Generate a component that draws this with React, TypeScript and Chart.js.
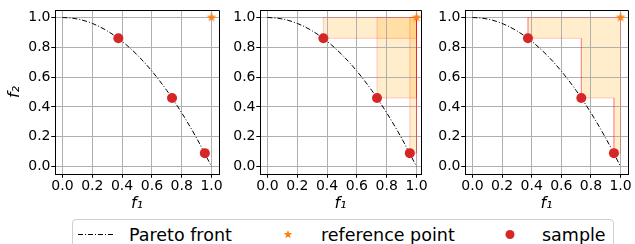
import React, { useEffect, useRef } from 'react';
import { Chart, registerables } from 'chart.js';

Chart.register(...registerables);

// ---------- data ----------
const TICK_VALUES = [0, 0.2, 0.4, 0.6, 0.8, 1.0];
const FRONT_F1 = [0, 0.1, 0.2, 0.3, 0.4, 0.5, 0.6, 0.7, 0.8, 0.9, 1.0];
const FRONT_F2 = [1.0, 0.99, 0.96, 0.91, 0.84, 0.75, 0.64, 0.51, 0.36, 0.19, 0.0];
const SAMPLE_F1 = [0.375, 0.735, 0.955];
const SAMPLE_F2 = [0.86, 0.46, 0.09];
const REF_F1 = [1.0];
const REF_F2 = [1.0];
const LEGEND_LABELS = ['Pareto front', 'reference point', 'sample'];
const X_TITLE = 'f\u2081';
const Y_TITLE = 'f\u2082';

// ---------- layout / style ----------
const W = 635;
const H = 244;
const FONT = '"DejaVu Sans", sans-serif';
const TOP = 10;
const BOTTOM = 174;
const X_AXIS_H = 39;
const PANELS = [
  { left: 55, right: 219, xMax: 1.05, yTitle: true, yW: 55, mode: 'none' },
  { left: 260, right: 421, xMax: 1.03, yTitle: false, yW: 45, mode: 'boxes' },
  { left: 465, right: 629, xMax: 1.05, yTitle: false, yW: 45, mode: 'union' },
];
const FILL = 'rgba(255,165,0,0.2)';
const EDGE = 'rgba(255,0,0,0.2)';
const RED = '#d62728';
const ORANGE = '#ff7f0e';
const LEG_Y = 234.5;

function makeStar(): HTMLCanvasElement {
  const c = document.createElement('canvas');
  c.width = 12;
  c.height = 12;
  const g = c.getContext('2d')!;
  g.beginPath();
  for (let k = 0; k < 10; k++) {
    const r = k % 2 === 0 ? 5 : 2.1;
    const a = -Math.PI / 2 + (k * Math.PI) / 5;
    const px = 6 + r * Math.cos(a);
    const py = 6 + r * Math.sin(a);
    if (k === 0) g.moveTo(px, py);
    else g.lineTo(px, py);
  }
  g.closePath();
  g.fillStyle = ORANGE;
  g.fill();
  return c;
}

const framePlugin = {
  id: 'frame',
  beforeDatasetsDraw(chart: any) {
    // grid above the filled patches, below the lines and markers
    chart.scales.x.drawGrid(chart.chartArea);
    chart.scales.y.drawGrid(chart.chartArea);
  },
  afterDraw(chart: any) {
    const { left, right, top, bottom } = chart.chartArea;
    const ctx = chart.ctx;
    ctx.save();
    ctx.strokeStyle = '#000';
    ctx.lineWidth = 1;
    const l = Math.floor(left) + 0.5;
    const r = Math.floor(right) + 0.5;
    const t = Math.floor(top) + 0.5;
    const b = Math.floor(bottom) + 0.5;
    ctx.beginPath();
    ctx.rect(l, t, r - l, b - t);
    ctx.stroke();
    ctx.restore();
  },
};

function buildDatasets(mode: string, star: HTMLCanvasElement) {
  const ds: any[] = [];
  ds.push({
    label: LEGEND_LABELS[2],
    data: SAMPLE_F1.map((x, i) => ({ x, y: SAMPLE_F2[i] })),
    showLine: false,
    pointRadius: 5,
    pointBackgroundColor: RED,
    pointBorderColor: RED,
    pointBorderWidth: 0,
  });
  ds.push({
    label: LEGEND_LABELS[1],
    data: REF_F1.map((x, i) => ({ x, y: REF_F2[i] })),
    showLine: false,
    pointStyle: star,
    pointRadius: 6,
  });
  ds.push({
    label: LEGEND_LABELS[0],
    data: FRONT_F1.map((x, i) => ({ x, y: FRONT_F2[i] })),
    showLine: true,
    borderColor: '#000',
    borderWidth: 1,
    borderDash: [5, 2, 1, 2],
    pointRadius: 0,
    cubicInterpolationMode: 'monotone',
    fill: false,
  });
  const rx = REF_F1[0];
  const ry = REF_F2[0];
  if (mode === 'boxes') {
    SAMPLE_F1.forEach((sx, i) => {
      const sy = SAMPLE_F2[i];
      ds.push({
        data: [
          { x: sx, y: sy },
          { x: sx, y: ry },
          { x: rx, y: ry },
          { x: rx, y: sy },
          { x: sx, y: sy },
        ],
        showLine: true,
        fill: 'shape',
        backgroundColor: FILL,
        borderColor: EDGE,
        borderWidth: 1,
        pointRadius: 0,
        tension: 0,
      });
    });
  } else if (mode === 'union') {
    const pts: any[] = [{ x: SAMPLE_F1[0], y: ry }];
    SAMPLE_F1.forEach((sx, i) => {
      pts.push({ x: sx, y: SAMPLE_F2[i] });
      const nx = i + 1 < SAMPLE_F1.length ? SAMPLE_F1[i + 1] : rx;
      pts.push({ x: nx, y: SAMPLE_F2[i] });
    });
    pts.push({ x: rx, y: ry });
    pts.push({ x: SAMPLE_F1[0], y: ry });
    ds.push({
      data: pts,
      showLine: true,
      fill: 'shape',
      backgroundColor: FILL,
      borderColor: EDGE,
      borderWidth: 1,
      pointRadius: 0,
      tension: 0,
    });
  }
  return ds;
}

function Panel({ idx }: { idx: number }) {
  const ref = useRef<HTMLCanvasElement>(null);
  useEffect(() => {
    const p = PANELS[idx];
    const star = makeStar();
    const tickFont = { family: FONT, size: 14 };
    const grid = {
      color: '#b0b0b0',
      lineWidth: 1,
      tickColor: '#000',
      tickLength: 3.5,
      drawTicks: true,
    };
    const chart = new Chart(ref.current!, {
      type: 'scatter',
      data: { datasets: buildDatasets(p.mode, star) },
      plugins: [framePlugin],
      options: {
        responsive: false,
        maintainAspectRatio: false,
        animation: false,
        devicePixelRatio: 1,
        events: [],
        layout: {
          padding: {
            left: p.left - p.yW,
            right: W - p.right,
            top: TOP,
            bottom: H - BOTTOM - X_AXIS_H,
          },
        },
        plugins: {
          legend: { display: false },
          tooltip: { enabled: false },
          filler: { drawTime: 'beforeDatasetsDraw' },
        } as any,
        scales: {
          x: {
            type: 'linear',
            min: -0.05,
            max: p.xMax,
            afterBuildTicks: (s: any) => {
              s.ticks = TICK_VALUES.map((v) => ({ value: v }));
            },
            afterFit: (s: any) => {
              s.height = X_AXIS_H;
            },
            ticks: {
              callback: (v: any) => Number(v).toFixed(1),
              font: tickFont,
              color: '#000',
              padding: 0,
              maxRotation: 0,
              minRotation: 0,
              autoSkip: false,
            },
            grid,
            border: { display: true, color: '#000', width: 1 },
            title: {
              display: true,
              text: X_TITLE,
              font: { family: FONT, size: 16, style: 'italic' },
              color: '#000',
              padding: 0,
            },
          },
          y: {
            type: 'linear',
            min: -0.05,
            max: 1.05,
            afterBuildTicks: (s: any) => {
              s.ticks = TICK_VALUES.map((v) => ({ value: v }));
            },
            afterFit: (s: any) => {
              s.width = p.yW;
            },
            ticks: {
              callback: (v: any) => Number(v).toFixed(1),
              font: tickFont,
              color: '#000',
              padding: 1,
              autoSkip: false,
            },
            grid,
            border: { display: true, color: '#000', width: 1 },
            title: {
              display: p.yTitle,
              text: Y_TITLE,
              font: { family: FONT, size: 16, style: 'italic' },
              color: '#000',
              padding: { top: 5, bottom: 0 },
            },
          },
        } as any,
      } as any,
    });
    return () => chart.destroy();
  }, [idx]);
  return (
    <canvas
      ref={ref}
      width={W}
      height={H}
      style={{ position: 'absolute', left: 0, top: 0, width: W, height: H }}
    />
  );
}

function Legend() {
  const text: React.CSSProperties = {
    position: 'absolute',
    fontFamily: FONT,
    fontSize: 17.5,
    lineHeight: '20px',
    top: LEG_Y - 10,
    color: '#000',
    whiteSpace: 'nowrap',
  };
  const starPts: string[] = [];
  for (let k = 0; k < 10; k++) {
    const r = k % 2 === 0 ? 4.6 : 1.9;
    const a = -Math.PI / 2 + (k * Math.PI) / 5;
    starPts.push(`${(288 + r * Math.cos(a)).toFixed(2)},${(LEG_Y + r * Math.sin(a)).toFixed(2)}`);
  }
  return (
    <>
      <div
        style={{
          position: 'absolute',
          left: 72,
          top: 219,
          width: 542,
          height: 34,
          border: '1px solid #d0d0d0',
          borderRadius: 4,
          background: '#fff',
          boxSizing: 'border-box',
        }}
      />
      <svg
        width={W}
        height={H}
        style={{ position: 'absolute', left: 0, top: 0, pointerEvents: 'none' }}
      >
        <line x1={78} y1={LEG_Y} x2={114} y2={LEG_Y} stroke="#000" strokeWidth={1} strokeDasharray="5 2 1 2" />
        <polygon points={starPts.join(' ')} fill={ORANGE} />
        <circle cx={510} cy={LEG_Y} r={4.5} fill={RED} />
      </svg>
      <span style={{ ...text, left: 129 }}>{LEGEND_LABELS[0]}</span>
      <span style={{ ...text, left: 321 }}>{LEGEND_LABELS[1]}</span>
      <span style={{ ...text, left: 542 }}>{LEGEND_LABELS[2]}</span>
    </>
  );
}

export default function App() {
  useEffect(() => {
    document.body.style.margin = '0';
  }, []);
  return (
    <div style={{ position: 'relative', width: W, height: H, overflow: 'hidden', background: '#fff' }}>
      <Panel idx={0} />
      <Panel idx={1} />
      <Panel idx={2} />
      <Legend />
    </div>
  );
}
